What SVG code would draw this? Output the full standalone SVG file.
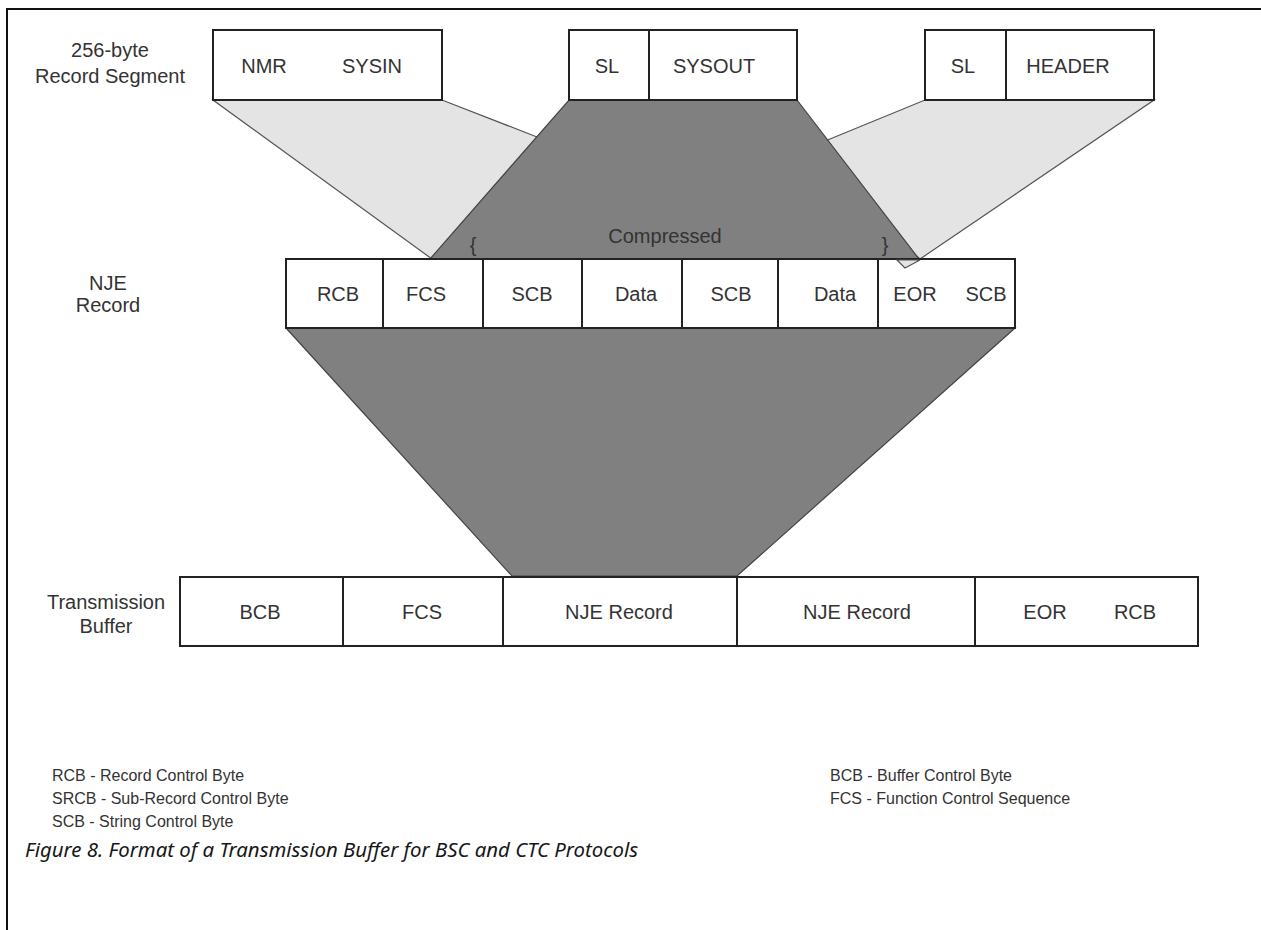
<svg xmlns="http://www.w3.org/2000/svg" width="1261" height="930" viewBox="0 0 1261 930">
<style>
.bg{fill:#fff}
.frame{stroke:#111;stroke-width:2;fill:none}
.cell{fill:#fff;stroke:#222;stroke-width:2}
.div{stroke:#222;stroke-width:2}
.light{fill:#e4e4e4;stroke:#555;stroke-width:1.2}
.dark{fill:#808080;stroke:#444;stroke-width:1.2}
.t{font-family:"Liberation Sans",Arial,sans-serif;font-size:20px;fill:#333;text-anchor:middle}
.lg{font-family:"Liberation Sans",Arial,sans-serif;font-size:16px;fill:#333}
.cap{font-family:"Noto Sans","Open Sans",sans-serif;font-size:19px;font-style:italic;fill:#161616}
</style>
<rect class="bg" x="0" y="0" width="1261" height="930"/>
<path class="frame" d="M7,930 V9 H1261"/>

<g id="connectors">
  <polygon class="light" points="213,100 442,100 537,137 580,154 432,259"/>
  <polygon class="light" points="925,100 1154,100 920,259 800,152 830,139"/>
  <polygon class="dark" points="569,100 797,100 919,259 430,259"/>
  <polygon class="dark" points="286,328 1015,328 737,576 512,576"/>
</g>

<g id="row-labels">
  <text class="t" x="110" y="57">256-byte</text>
  <text class="t" x="110" y="83">Record Segment</text>
  <text class="t" x="108" y="290">NJE</text>
  <text class="t" x="108" y="312">Record</text>
  <text class="t" x="106" y="609">Transmission</text>
  <text class="t" x="106" y="633">Buffer</text>
</g>

<g id="segment-sysin">
  <rect class="cell" x="213" y="30" width="229" height="70"/>
  <text class="t" x="264" y="73">NMR</text>
  <text class="t" x="372" y="73">SYSIN</text>
</g>
<g id="segment-sysout">
  <rect class="cell" x="569" y="30" width="228" height="70"/>
  <line class="div" x1="649" y1="30" x2="649" y2="100"/>
  <text class="t" x="607" y="73">SL</text>
  <text class="t" x="714" y="73">SYSOUT</text>
</g>
<g id="segment-header">
  <rect class="cell" x="925" y="30" width="229" height="70"/>
  <line class="div" x1="1006" y1="30" x2="1006" y2="100"/>
  <text class="t" x="963" y="73">SL</text>
  <text class="t" x="1068" y="73">HEADER</text>
</g>

<g id="compressed-label">
  <text class="t" x="665" y="243">Compressed</text>
  <text class="t" x="473" y="252">{</text>
  <text class="t" x="885" y="252">}</text>
</g>

<g id="nje-record">
  <rect class="cell" x="286" y="259" width="729" height="69"/>
  <line class="div" x1="383" y1="259" x2="383" y2="328"/>
  <line class="div" x1="483" y1="259" x2="483" y2="328"/>
  <line class="div" x1="582" y1="259" x2="582" y2="328"/>
  <line class="div" x1="682" y1="259" x2="682" y2="328"/>
  <line class="div" x1="778" y1="259" x2="778" y2="328"/>
  <line class="div" x1="878" y1="259" x2="878" y2="328"/>
  <text class="t" x="338" y="301">RCB</text>
  <text class="t" x="426" y="301">FCS</text>
  <text class="t" x="532" y="301">SCB</text>
  <text class="t" x="636" y="301">Data</text>
  <text class="t" x="731" y="301">SCB</text>
  <text class="t" x="835" y="301">Data</text>
  <text class="t" x="915" y="301">EOR</text>
  <text class="t" x="986" y="301">SCB</text>
  <polygon class="light" points="897,260 920,260 905,268"/>
</g>

<g id="transmission-buffer">
  <rect class="cell" x="180" y="577" width="1018" height="69"/>
  <line class="div" x1="343" y1="577" x2="343" y2="646"/>
  <line class="div" x1="503" y1="577" x2="503" y2="646"/>
  <line class="div" x1="737" y1="577" x2="737" y2="646"/>
  <line class="div" x1="975" y1="577" x2="975" y2="646"/>
  <text class="t" x="260" y="619">BCB</text>
  <text class="t" x="422" y="619">FCS</text>
  <text class="t" x="619" y="619">NJE Record</text>
  <text class="t" x="857" y="619">NJE Record</text>
  <text class="t" x="1045" y="619">EOR</text>
  <text class="t" x="1135" y="619">RCB</text>
</g>

<g id="legend">
  <text class="lg" x="52" y="781">RCB - Record Control Byte</text>
  <text class="lg" x="52" y="804">SRCB - Sub-Record Control Byte</text>
  <text class="lg" x="52" y="827">SCB - String Control Byte</text>
  <text class="lg" x="830" y="781">BCB - Buffer Control Byte</text>
  <text class="lg" x="830" y="804">FCS - Function Control Sequence</text>
</g>

<g id="caption">
  <text class="cap" x="25" y="857" textLength="613" lengthAdjust="spacingAndGlyphs">Figure 8. Format of a Transmission Buffer for BSC and CTC Protocols</text>
</g>
</svg>
